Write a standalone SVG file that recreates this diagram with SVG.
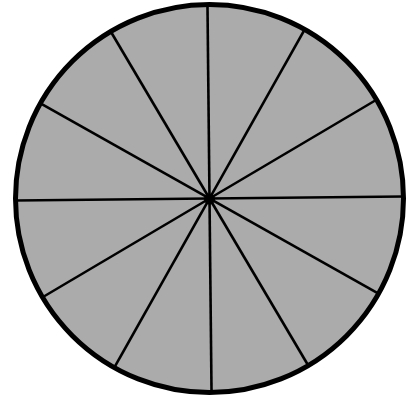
<svg xmlns="http://www.w3.org/2000/svg" width="419" height="398" viewBox="0 0 419 398">
<style>
.spoke{stroke:#000;stroke-width:2.6;stroke-linecap:butt}
</style>
<rect width="419" height="398" fill="#fff"/>
<g id="wheel">
<circle cx="209.5" cy="198.5" r="194" fill="#ababab" stroke="#000" stroke-width="5"/>
<g id="spokes" transform="rotate(-0.6 209.5 198.5)">
<line class="spoke" x1="15.5" y1="198.5" x2="403.5" y2="198.5"/>
<line class="spoke" x1="15.5" y1="198.5" x2="403.5" y2="198.5" transform="rotate(30 209.5 198.5)"/>
<line class="spoke" x1="15.5" y1="198.5" x2="403.5" y2="198.5" transform="rotate(60 209.5 198.5)"/>
<line class="spoke" x1="15.5" y1="198.5" x2="403.5" y2="198.5" transform="rotate(90 209.5 198.5)"/>
<line class="spoke" x1="15.5" y1="198.5" x2="403.5" y2="198.5" transform="rotate(120 209.5 198.5)"/>
<line class="spoke" x1="15.5" y1="198.5" x2="403.5" y2="198.5" transform="rotate(150 209.5 198.5)"/>
</g>
<circle cx="209.5" cy="199" r="5.5" fill="#000"/>
</g>
</svg>
